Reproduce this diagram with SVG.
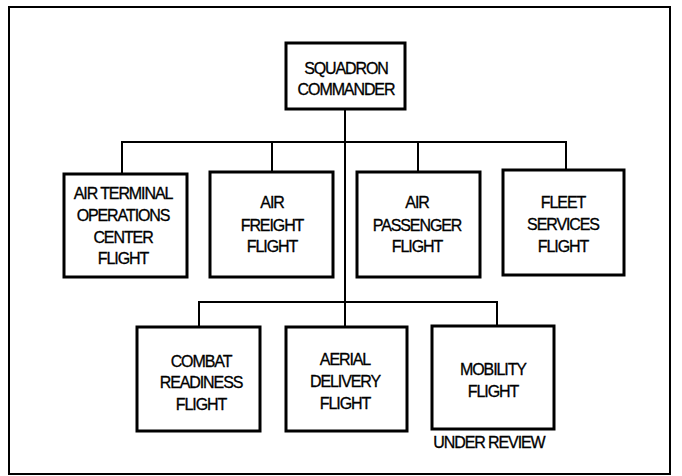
<svg xmlns="http://www.w3.org/2000/svg" width="682" height="476" viewBox="0 0 682 476">
<style>
.frame{fill:none;stroke:#000;stroke-width:2}
.box{fill:#fff;stroke:#000;stroke-width:3}
.conn{fill:none;stroke:#000;stroke-width:2}
text{font-family:"Liberation Sans",Arial,sans-serif;font-size:16px;fill:#000;stroke:#000;stroke-width:0.3;text-anchor:middle;letter-spacing:-1.1px}
</style>
<rect x="0" y="0" width="682" height="476" fill="#fff"/>
<rect class="frame" x="9" y="7" width="661" height="467"/>
<g id="connectors">
<path class="conn" d="M345,109 V327"/>
<path class="conn" d="M122,173 V142 H566 V173 M272,142 V173 M418,142 V173"/>
<path class="conn" d="M199,327 V302 H497 V327"/>
</g>
<g id="squadron-commander">
<rect class="box" x="286" y="43" width="119" height="66"/>
<text x="346" y="74">SQUADRON</text>
<text x="346" y="95">COMMANDER</text>
</g>
<g id="air-terminal">
<rect class="box" x="64" y="174" width="123" height="103"/>
<text x="123" y="199">AIR TERMINAL</text>
<text x="123" y="221">OPERATIONS</text>
<text x="123" y="243">CENTER</text>
<text x="123" y="264">FLIGHT</text>
</g>
<g id="air-freight">
<rect class="box" x="210" y="172" width="123" height="105"/>
<text x="272" y="208">AIR</text>
<text x="272" y="231">FREIGHT</text>
<text x="272" y="252">FLIGHT</text>
</g>
<g id="air-passenger">
<rect class="box" x="357" y="172" width="123" height="105"/>
<text x="417" y="208">AIR</text>
<text x="417" y="231">PASSENGER</text>
<text x="417" y="252">FLIGHT</text>
</g>
<g id="fleet-services">
<rect class="box" x="503" y="170" width="121" height="105"/>
<text x="563" y="208">FLEET</text>
<text x="563" y="230">SERVICES</text>
<text x="563" y="252">FLIGHT</text>
</g>
<g id="combat-readiness">
<rect class="box" x="137" y="327" width="123" height="104"/>
<text x="201" y="367">COMBAT</text>
<text x="201" y="388">READINESS</text>
<text x="201" y="410">FLIGHT</text>
</g>
<g id="aerial-delivery">
<rect class="box" x="286" y="327" width="121" height="104"/>
<text x="345" y="365">AERIAL</text>
<text x="345" y="387">DELIVERY</text>
<text x="345" y="409">FLIGHT</text>
</g>
<g id="mobility">
<rect class="box" x="432" y="326" width="122" height="103"/>
<text x="493" y="375">MOBILITY</text>
<text x="493" y="397">FLIGHT</text>
</g>
<text x="489" y="448">UNDER REVIEW</text>
</svg>
